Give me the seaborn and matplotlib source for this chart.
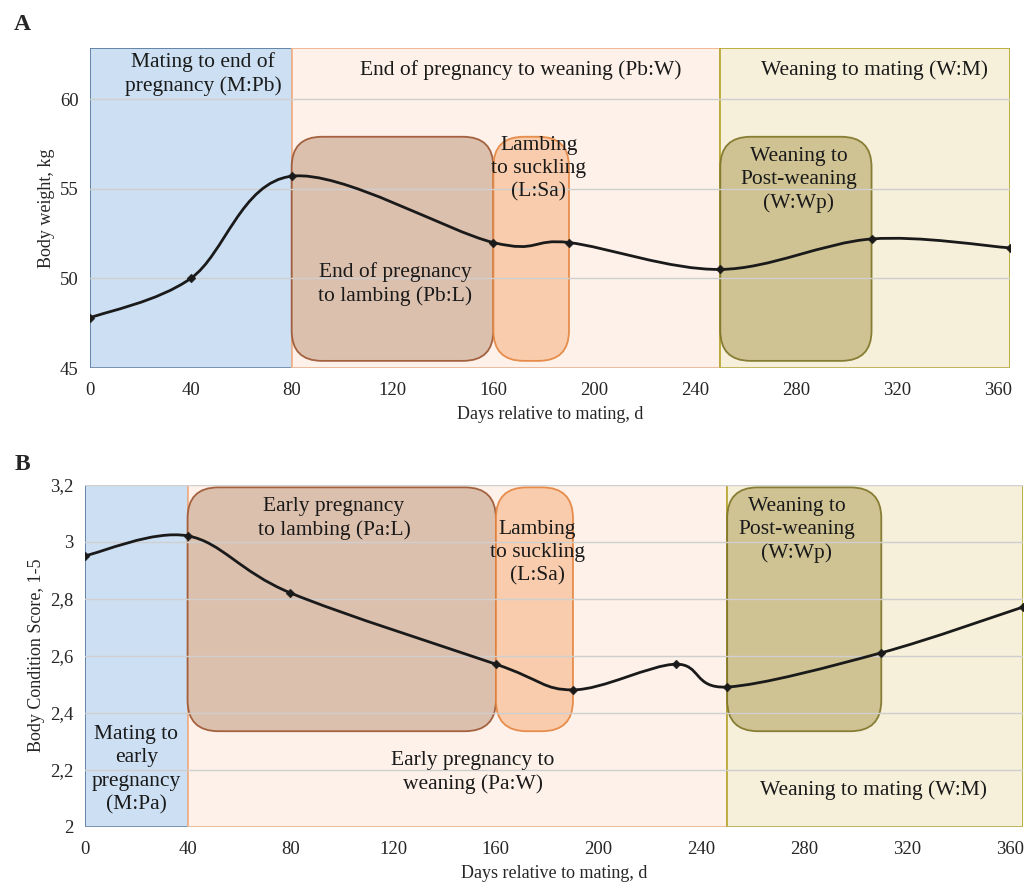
import numpy as np
import matplotlib
matplotlib.use("Agg")
import matplotlib.pyplot as plt
from matplotlib.patches import FancyBboxPatch, PathPatch
from matplotlib.path import Path
import seaborn as sns

# Panel A: body weight
days_bw = [0, 40, 80, 160, 190, 250, 310, 365]
body_weight = [47.8, 50.0, 55.7, 52.0, 52.0, 50.5, 52.2, 51.7]
bw_yticks = [45, 50, 55, 60]
bw_yticklabels = ["45", "50", "55", "60"]

# Panel B: body condition score
days_bcs = [0, 40, 80, 160, 190, 230, 250, 310, 365]
bcs = [2.95, 3.02, 2.82, 2.57, 2.48, 2.57, 2.49, 2.61, 2.77]
bcs_yticks = [2.0, 2.2, 2.4, 2.6, 2.8, 3.0, 3.2]
bcs_yticklabels = ["2", "2,2", "2,4", "2,6", "2,8", "3", "3,2"]

x_ticks = [0, 40, 80, 120, 160, 200, 240, 280, 320, 360]

# periods (start, end)
bw_periods = [(0, 80), (80, 250), (250, 365)]
bw_boxes = [(80, 160), (160, 190), (250, 310)]
bcs_periods = [(0, 40), (40, 250), (250, 365)]
bcs_boxes = [(40, 160), (160, 190), (250, 310)]

span_faces = ["#cde0f3", "#fdf1e9", "#f6f0da"]
span_edges = ["#5d7ea3", "#f3b48c", "#b8a837"]
box_faces = ["#d9bba8", "#f8c8a6", "#cbbd8c"]
box_edges = ["#9c5530", "#e5843e", "#7d7326"]

sns.set_theme(style="white")
plt.rcParams['font.family'] = ['Liberation Serif', 'DejaVu Serif']


def smooth_path(xs, ys):
    # Excel-style smoothed line: Catmull-Rom segments as cubic Bezier
    pts = np.column_stack([xs, ys]).astype(float)
    n = len(pts)
    verts = [pts[0]]
    codes = [Path.MOVETO]
    for i in range(n - 1):
        p_prev = pts[i - 1] if i > 0 else pts[i]
        p_next = pts[i + 2] if i + 2 < n else pts[i + 1]
        c1 = pts[i] + (pts[i + 1] - p_prev) / 6
        c2 = pts[i + 1] - (p_next - pts[i]) / 6
        verts += [c1, c2, pts[i + 1]]
        codes += [Path.CURVE4] * 3
    return Path(verts, codes)


def draw_panel(ax, fig, xs, ys, xlim, ylim, periods, boxes, box_ylim):
    ax.set_xlim(*xlim)
    ax.set_ylim(*ylim)
    # aspect for rounded corners
    bb = ax.get_position()
    fw, fh = fig.get_size_inches() * fig.dpi
    px_x = bb.width * fw / (xlim[1] - xlim[0])
    px_y = bb.height * fh / (ylim[1] - ylim[0])
    aspect = px_x / px_y

    for (a, b), fc, ec in zip(periods, span_faces, span_edges):
        ax.axvspan(a, b, facecolor=fc, edgecolor=ec, linewidth=1.3, zorder=0)
    for (a, b), fc, ec in zip(boxes, box_faces, box_edges):
        patch = FancyBboxPatch((a, box_ylim[0]), b - a, box_ylim[1] - box_ylim[0],
                               boxstyle="round,pad=0,rounding_size=12",
                               mutation_aspect=aspect,
                               facecolor=fc, edgecolor=ec, linewidth=1.3,
                               alpha=0.9, zorder=2)
        ax.add_patch(patch)

    ax.add_patch(PathPatch(smooth_path(xs, ys), facecolor="none",
                           edgecolor="#1a1a1a", linewidth=2.0, zorder=4))
    sns.scatterplot(x=xs, y=ys, ax=ax, marker="D", s=20, color="#1a1a1a",
                    edgecolor="#1a1a1a", zorder=5, legend=False)

    ax.yaxis.grid(True, color="#cfcfcf", linewidth=1.0, zorder=1)
    ax.set_axisbelow(False)
    for s in ax.spines.values():
        s.set_visible(False)
    ax.set_xticks(x_ticks)
    ax.set_xticklabels([str(t) for t in x_ticks])
    ax.tick_params(axis="x", length=4, color="#bbbbbb", labelsize=13.5, pad=6)
    ax.tick_params(axis="y", length=0, labelsize=13.5, pad=8)
    ax.set_xlabel("Days relative to mating, d", fontsize=13, labelpad=5)


fig = plt.figure(figsize=(10.34, 8.89), dpi=100)
ax1 = fig.add_axes([0.087, 0.586, 0.890, 0.360])
ax2 = fig.add_axes([0.082, 0.070, 0.907, 0.385])

draw_panel(ax1, fig, days_bw, body_weight, (0, 365), (45, 62.85),
           bw_periods, bw_boxes, (45.4, 57.9))
ax1.set_yticks(bw_yticks)
ax1.set_yticklabels(bw_yticklabels)
ax1.set_ylabel("Body weight, kg", fontsize=13)

draw_panel(ax2, fig, days_bcs, bcs, (0, 365), (2.0, 3.2),
           bcs_periods, bcs_boxes, (2.335, 3.19))
ax2.set_yticks(bcs_yticks)
ax2.set_yticklabels(bcs_yticklabels)
ax2.set_ylabel("Body Condition Score, 1-5", fontsize=13)

fs = 15.5
txt = dict(ha="center", va="center", fontsize=fs, color="#1a1a1a",
           linespacing=1.3, zorder=6)
ax1.text(45, 61.4, "Mating to end of\npregnancy (M:Pb)", **txt)
ax1.text(171, 61.6, "End of pregnancy to weaning (Pb:W)", **txt)
ax1.text(311, 61.6, "Weaning to mating (W:M)", **txt)
ax1.text(178, 56.1, "Lambing\nto suckling\n(L:Sa)", **txt)
ax1.text(121, 49.7, "End of pregnancy\nto lambing (Pb:L)", **txt)
ax1.text(281, 55.5, "Weaning to\nPost-weaning\n(W:Wp)", **txt)

ax2.text(97, 3.08, "Early pregnancy\nto lambing (Pa:L)", **txt)
ax2.text(176, 2.96, "Lambing\nto suckling\n(L:Sa)", **txt)
ax2.text(277, 3.04, "Weaning to\nPost-weaning\n(W:Wp)", **txt)
ax2.text(20, 2.2, "Mating to\nearly\npregnancy\n(M:Pa)", **txt)
ax2.text(151, 2.19, "Early pregnancy to\nweaning (Pa:W)", **txt)
ax2.text(307, 2.13, "Weaning to mating (W:M)", **txt)

fig.text(22 / 1034, 1 - 24 / 889, "A", fontsize=17, fontweight="bold",
         ha="center", va="center")
fig.text(22 / 1034, 1 - 464 / 889, "B", fontsize=17, fontweight="bold",
         ha="center", va="center")

fig.savefig("out.png", dpi=100)
